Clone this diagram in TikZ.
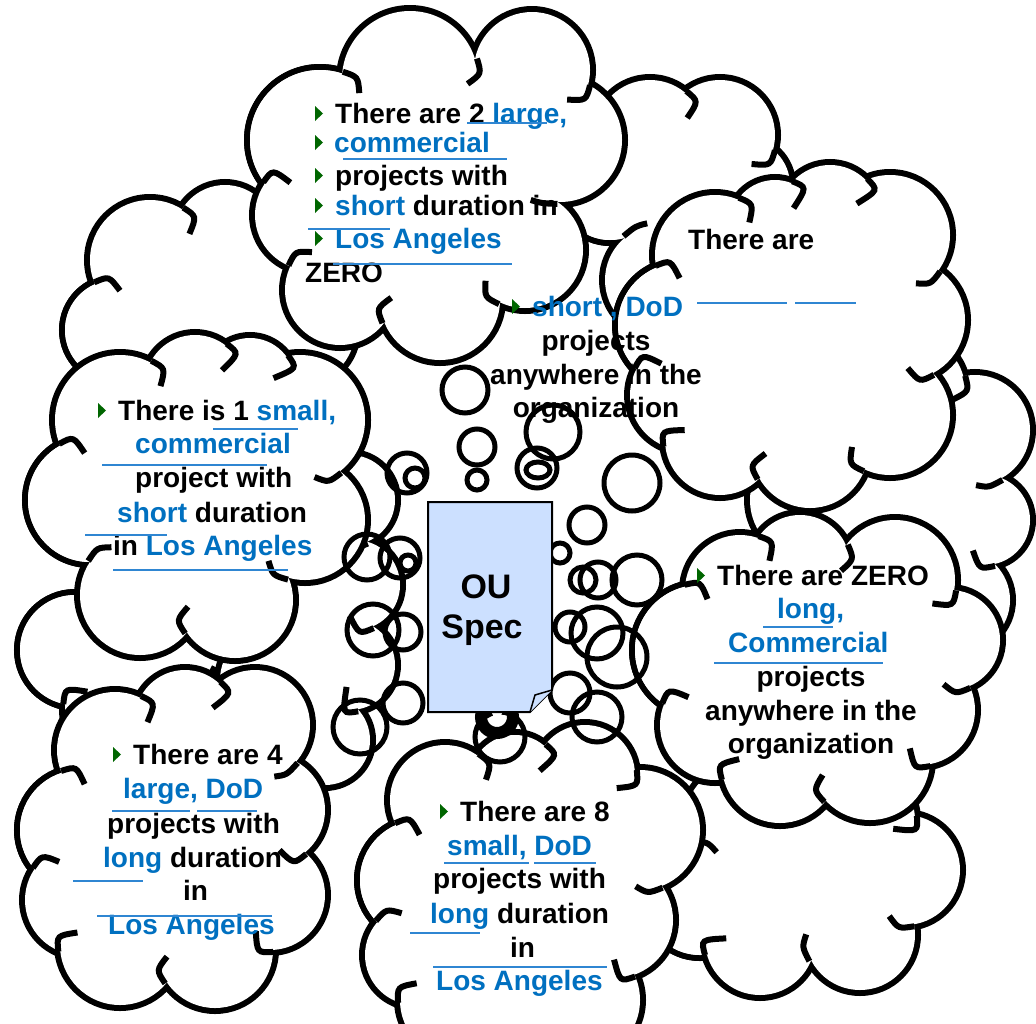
\documentclass[tikz,border=0pt]{standalone}
\usepackage{fontspec}
\setmainfont{Liberation Sans}
\definecolor{ublue}{HTML}{0070C0}
\definecolor{ulinec}{HTML}{2F86D2}
\definecolor{bulgreen}{HTML}{006600}
\definecolor{specfill}{HTML}{CCE0FF}

% white wedge from the cloud centre to two neighbouring puffs
\newcommand\cloudwedge[6]{\filldraw[white, line width=2pt, line join=round] (#5,#6) -- (#1,#2) -- (#3,#4) -- cycle;}

% inward hook at the notch where puff 1 meets puff 2
% #1,#2,#3 first puff (x, y, r)  #4,#5,#6 second puff  #7,#8 cloud centre
\newcommand\hookarc[8]{%
  \pgfmathsetmacro\hdd{veclen(#4-#1,#5-#2)}%
  \pgfmathsetmacro\hph{atan2(#5-#2,#4-#1)}%
  \pgfmathsetmacro\hxx{\hdd/2+(#3*#3-#6*#6)/(2*\hdd)}%
  \pgfmathsetmacro\hal{acos(max(-1,min(1,\hxx/#3)))}%
  \pgfmathsetmacro\hst{\hph-\hal}%
  \pgfmathsetmacro\hqa{#1+(#3+2)*cos(\hst)}%
  \pgfmathsetmacro\hqb{#2+(#3+2)*sin(\hst)}%
  \pgfmathsetmacro\hul{veclen(#7-\hqa,#8-\hqb)}%
  \pgfmathsetmacro\hua{(#7-\hqa)/\hul}%
  \pgfmathsetmacro\hub{(#8-\hqb)/\hul}%
  \pgfmathsetmacro\hca{\hqa-16*sin(\hst)}%
  \pgfmathsetmacro\hcb{\hqb+16*cos(\hst)}%
  \pgfmathsetmacro\hea{\hqa+27*\hua}%
  \pgfmathsetmacro\heb{\hqb+27*\hub}%
  \draw[line width=6pt] (\hqa,\hqb) .. controls (\hca,\hcb) .. (\hea,\heb);%
}

% cloud: #1,#2 centre, #3 puffs x/y/r listed clockwise, first one repeated at the end
\newcommand\puffcloud[3]{%
  \foreach \px/\py/\pr in {#3}
    \draw[line width=12pt] (\px,\py) circle[radius=\pr];
  \foreach \px/\py/\pr in {#3}
    \fill[white] (\px,\py) circle[radius=\pr];
  \gdef\hkprev{}%
  \foreach \px/\py/\pr in {#3}{%
    \ifx\hkprev\empty\else\expandafter\cloudwedge\hkprev{\px}{\py}{#1}{#2}\fi
    \xdef\hkprev{{\px}{\py}}%
  }%
  \gdef\hkprev{}%
  \foreach \px/\py/\pr in {#3}{%
    \ifx\hkprev\empty\else\expandafter\hookarc\hkprev{\px}{\py}{\pr}{#1}{#2}\fi
    \xdef\hkprev{{\px}{\py}{\pr}}%
  }%
}

\newcommand\bl[1]{\textcolor{ublue}{#1}}

\begin{document}
\begin{tikzpicture}[x=1pt,y=-1pt,
  txt/.style={anchor=base west, inner sep=0pt, font=\fontsize{28}{32}\selectfont\bfseries},
  ctxt/.style={txt, anchor=base},
  spectxt/.style={anchor=base, inner sep=0pt, font=\fontsize{34}{40}\selectfont\bfseries},
  uline/.style={draw=ulinec, line width=2pt},
  bubble/.style={draw=black, line width=5pt},
  bulletmark/.style={fill=bulgreen}]
\useasboundingbox (0,0) rectangle (1036,1023);
\fill[white] (0,0) rectangle (1036,1023);

% clouds in the back
\puffcloud{690}{200}{610/190/50, 650/135/55, 720/135/55, 745/185/45, 730/270/55, 660/280/55, 610/190/50}
\puffcloud{210}{320}{115/330/50, 150/260/60, 225/235/50, 290/250/55, 300/330/55, 250/390/50, 160/390/50, 115/330/50}
\puffcloud{900}{500}{820/400/60, 910/390/55, 975/430/55, 985/520/45, 960/600/50, 860/600/60, 810/500/60, 820/400/60}
\puffcloud{800}{880}{700/900/55, 740/820/55, 800/810/50, 860/820/55, 905/870/55, 860/935/55, 760/940/55, 700/900/55}
\puffcloud{150}{660}{75/650/55, 140/600/50, 230/620/50, 200/710/55, 120/710/55, 75/650/55}
\puffcloud{300}{590}{320/420/45, 350/500/45, 355/585/45, 350/665/45, 325/740/45, 270/680/50, 255/590/55, 270/500/50, 320/420/45}

% clouds carrying the statements
\puffcloud{430}{185}{320/140/70, 410/79/68, 532/70/58, 560/140/62, 525/250/58, 440/300/60, 340/290/55, 310/215/55, 320/140/70}
\puffcloud{800}{340}{680/325/62, 715/255/60, 775/225/45, 830/215/50, 890/235/60, 905/320/60, 890/415/60, 810/450/58, 720/440/55, 685/395/55, 680/325/62}
\puffcloud{200}{495}{90/500/62, 120/420/65, 195/385/50, 250/383/45, 300/420/65, 305/520/60, 235/600/58, 140/595/60, 90/500/62}
\puffcloud{175}{835}{80/830/60, 115/750/58, 185/720/50, 255/725/55, 270/810/55, 270/895/55, 215/950/58, 120/945/60, 80/900/55, 80/830/60}
\puffcloud{816}{667}{700/650/65, 740/590/55, 800/565/50, 895/580/60, 950/640/50, 920/710/55, 870/760/60, 780/765/58, 715/725/55, 700/650/65}
\puffcloud{515}{880}{420/880/60, 445/800/55, 515/780/45, 585/775/50, 640/830/60, 615/920/58, 580/1000/60, 520/1015/55, 460/1000/60, 415/955/50, 420/880/60}

% thought bubbles round the spec sheet
\foreach \cx/\cy/\cr in {465/390/23, 477/447/18, 477/480/10, 553/432/27, 537/468/20,
    632/483/28, 587/525/18, 560/553/10, 407/473/20, 415/478/10, 400/558/20, 408/563/8,
    367/557/23, 403/632/18, 373/630/26, 583/580/13, 598/580/18, 637/580/25, 570/627/15,
    597/633/26, 617/657/30, 500/737/25, 403/703/20, 360/727/27, 570/693/20, 597/717/25}
  \draw[bubble] (\cx,\cy) circle[radius=\cr];
\draw[bubble] (538,470) ellipse[x radius=12, y radius=8];
\draw[line width=12pt] (497,717) circle[radius=16];
\fill[white] (497,713) circle[radius=5];

% spec sheet with folded corner
\draw[fill=specfill, line width=2pt] (428,502) -- (552,502) -- (552,690) -- (530,712) -- (428,712) -- cycle;
\draw[fill=specfill, line width=1.5pt] (530,712) -- (535,695) -- (552,690);
\node[spectxt] (ou) at (486,598) {OU};
\node[spectxt] (spec) at (482,638) {Spec};

% top cloud
\foreach \by in {123,152,185,215,248}
  \fill[bulletmark] (315,\by-17) -- (315,\by-2) -- (323,\by-9.5) -- cycle;
\node[txt] (a1) at (335,123) {There are 2 \bl{large,}};
\node[txt] (a2) at (334,152) {\bl{commercial}};
\node[txt] (a3) at (335,185) {projects with};
\node[txt] (a4) at (335,215) {\bl{short} duration in};
\node[txt] (a5) at (335,248) {\bl{Los Angeles}};
\node[txt] (a6) at (305,282) {ZERO};
\draw[uline] (467,123) -- (547,123);
\draw[uline] (343,159) -- (507,159);
\draw[uline] (308,229) -- (390,229);
\draw[uline] (333,264) -- (512,264);

% upper right cloud
\node[txt] (b1) at (688,249) {There are};
\fill[bulletmark] (512,299) -- (512,314) -- (520,306.5) -- cycle;
\node[txt] (b2) at (532,316) {\bl{short , DoD}};
\draw[uline] (697,303) -- (787,303);
\draw[uline] (795,303) -- (856,303);
\node[ctxt] (b3) at (596,350) {projects};
\node[ctxt] (b4) at (596,384) {anywhere in the};
\node[ctxt] (b5) at (596,417) {organization};

% left cloud
\fill[bulletmark] (98,403) -- (98,418) -- (106,410.5) -- cycle;
\node[txt] (c1) at (118,420) {There is 1 \bl{small,}};
\node[txt] (c2) at (135,453) {\bl{commercial}};
\node[txt] (c3) at (135,487) {project with};
\node[txt] (c4) at (117,522) {\bl{short} duration};
\node[txt] (c5) at (113,555) {in \bl{Los Angeles}};
\draw[uline] (213,429) -- (298,429);
\draw[uline] (102,465) -- (267,465);
\draw[uline] (85,535) -- (167,535);
\draw[uline] (113,570) -- (288,570);

% right cloud
\fill[bulletmark] (697,568) -- (697,583) -- (705,575.5) -- cycle;
\node[txt] (d1) at (717,585) {There are ZERO};
\node[txt] (d2) at (777,618) {\bl{long,}};
\node[txt] (d3) at (728,652) {\bl{Commercial}};
\node[ctxt] (d4) at (811,686) {projects};
\node[ctxt] (d5) at (811,720) {anywhere in the};
\node[ctxt] (d6) at (811,753) {organization};
\draw[uline] (763,627) -- (833,627);
\draw[uline] (714,663) -- (883,663);

% lower left cloud
\fill[bulletmark] (113,747) -- (113,762) -- (121,754.5) -- cycle;
\node[txt] (e1) at (133,764) {There are 4};
\node[txt] (e2) at (123,798) {\bl{large, DoD}};
\node[txt] (e3) at (107,833) {projects with};
\node[txt] (e4) at (103,867) {\bl{long} duration};
\node[txt] (e5) at (183,900) {in};
\node[txt] (e6) at (108,934) {\bl{Los Angeles}};
\draw[uline] (112,811) -- (190,811);
\draw[uline] (197,811) -- (257,811);
\draw[uline] (73,881) -- (143,881);
\draw[uline] (97,916) -- (272,916);

% lower middle cloud
\fill[bulletmark] (440,804) -- (440,819) -- (448,811.5) -- cycle;
\node[txt] (f1) at (460,821) {There are 8};
\node[txt] (f2) at (447,855) {\bl{small, DoD}};
\node[txt] (f3) at (433,888) {projects with};
\node[txt] (f4) at (430,923) {\bl{long} duration};
\node[txt] (f5) at (510,957) {in};
\node[txt] (f6) at (436,990) {\bl{Los Angeles}};
\draw[uline] (444,863) -- (529,863);
\draw[uline] (534,863) -- (596,863);
\draw[uline] (410,933) -- (480,933);
\draw[uline] (433,967) -- (607,967);
\end{tikzpicture}
\end{document}
